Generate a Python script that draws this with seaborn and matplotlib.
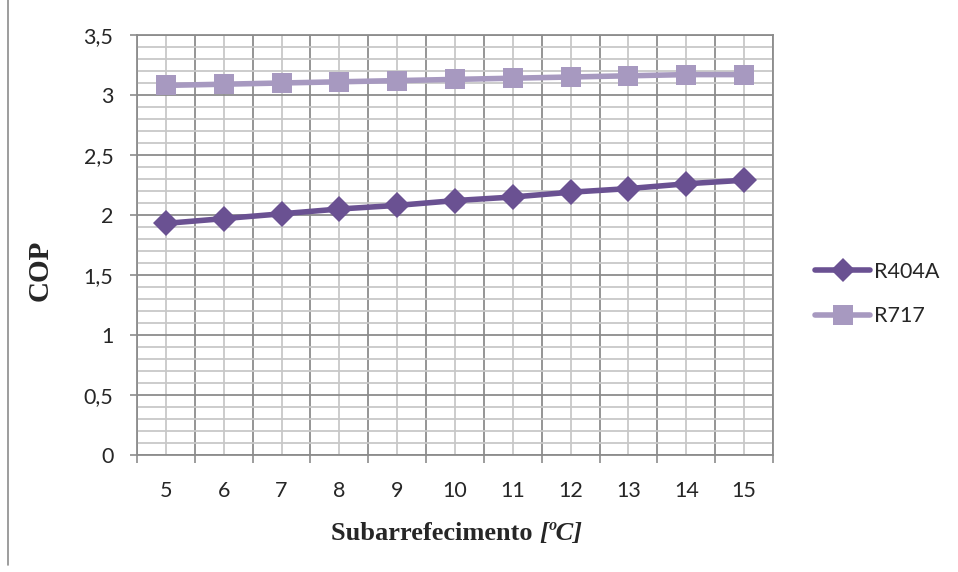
import numpy as np
import pandas as pd
import matplotlib
matplotlib.use('Agg')
import matplotlib.pyplot as plt
import seaborn as sns
from matplotlib.ticker import MultipleLocator, FixedLocator, FuncFormatter
from matplotlib.lines import Line2D

# data
subcooling = [5, 6, 7, 8, 9, 10, 11, 12, 13, 14, 15]
cop_r404a = [1.93, 1.97, 2.01, 2.05, 2.08, 2.12, 2.15, 2.19, 2.22, 2.26, 2.29]
cop_r717 = [3.08, 3.09, 3.10, 3.11, 3.12, 3.13, 3.14, 3.15, 3.16, 3.17, 3.17]
series_names = ['R404A', 'R717']

c_dark = '#6A5192'
c_light = '#A799C0'

df = pd.DataFrame({
    'x': subcooling * 2,
    'cop': cop_r404a + cop_r717,
    'fluid': [series_names[0]] * len(subcooling) + [series_names[1]] * len(subcooling),
})

sns.set_style('white')
plt.rcParams['font.family'] = ['Lato', 'DejaVu Sans']

fig = plt.figure(figsize=(9.58, 5.72), dpi=100)
ax = fig.add_axes([137 / 958, 1 - 455 / 572, (773 - 137) / 958, (455 - 35) / 572])

sns.lineplot(data=df, x='x', y='cop', hue='fluid', style='fluid',
             palette={'R404A': c_dark, 'R717': c_light},
             markers={'R404A': 'D', 'R717': 's'}, dashes=False,
             markersize=13, linewidth=4, markeredgewidth=0,
             legend=False, ax=ax, zorder=5)
# the squares are a bit bigger in the picture
for ln in ax.lines:
    if ln.get_marker() == 's':
        ln.set_markersize(14)

ax.set_xlim(4.5, 15.5)
ax.set_ylim(0, 3.5)

# x: category boundaries are the major ticks/grid, category centres are minor
ax.xaxis.set_major_locator(FixedLocator(np.arange(4.5, 16.0, 1.0)))
ax.xaxis.set_major_formatter(FuncFormatter(lambda v, p: ''))
ax.xaxis.set_minor_locator(FixedLocator(subcooling))
ax.xaxis.set_minor_formatter(FuncFormatter(lambda v, p: f'{int(round(v))}'))
ax.tick_params(axis='x', which='major', direction='out', length=6, width=1.2, color='#8c8c8c', bottom=True)
ax.tick_params(axis='x', which='minor', length=0, pad=19, labelsize=15.5)

ax.yaxis.set_major_locator(MultipleLocator(0.5))
ax.yaxis.set_minor_locator(MultipleLocator(0.1))
ax.yaxis.set_major_formatter(FuncFormatter(lambda v, p: f'{v:g}'.replace('.', ',')))
ax.tick_params(axis='y', which='major', direction='out', length=5, width=1.2, color='#8c8c8c', left=True, labelsize=15.5, pad=12)
ax.tick_params(axis='y', which='minor', length=0)

ax.grid(True, which='major', color='#8c8c8c', linewidth=1.3)
ax.grid(True, which='minor', color='#c8c8c8', linewidth=1.3)
ax.set_axisbelow(True)
for s in ax.spines.values():
    s.set_color('#8c8c8c')
    s.set_linewidth(1.3)

ax.set_xlabel('')
ax.set_ylabel('')

# axis titles (Times-like bold, unit in italic)
lab = fig.text(0.5, 1 - 540 / 572, 'Subarrefecimento ', family='Liberation Serif',
               fontweight='bold', fontsize=19, ha='left', va='baseline')
lab2 = fig.text(0, 1 - 540 / 572, '[ºC]', family='Liberation Serif', fontweight='bold',
                style='italic', fontsize=19, va='baseline')
fig.canvas.draw()
w_main = lab.get_window_extent().width
w_unit = lab2.get_window_extent().width
cx = 457
x0 = cx - (w_main + w_unit) / 2
lab.set_x(x0 / 958)
lab2.set_x((x0 + w_main) / 958)

fig.text(40 / 958, 1 - 270 / 572, 'COP', family='Liberation Serif', fontweight='bold',
         fontsize=21, rotation=90, ha='center', va='center')

handles = [Line2D([], [], color=c_dark, marker='D', markersize=12, linewidth=4, markeredgewidth=0),
           Line2D([], [], color=c_light, marker='s', markersize=14, linewidth=4, markeredgewidth=0)]
fig.legend(handles, series_names, loc='center left', bbox_to_anchor=(796 / 958, 1 - 294 / 572),
           frameon=False, fontsize=15.5, handlelength=2.55, handletextpad=0.15, labelspacing=1.15)

# outer chart border on the left
fig.add_artist(Line2D([8 / 958, 8 / 958], [1 - 565 / 572, 1.0], transform=fig.transFigure,
                      color='#8c8c8c', linewidth=1.2))

fig.savefig('out.png', dpi=100)
